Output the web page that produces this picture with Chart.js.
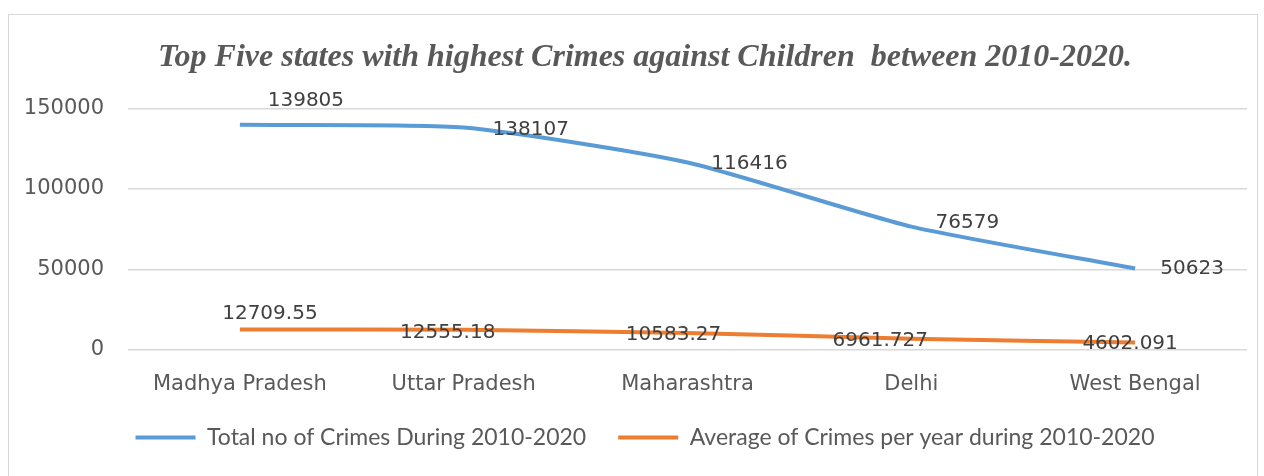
<!DOCTYPE html>
<html>
<head>
<meta charset="utf-8">
<script src="https://cdn.jsdelivr.net/npm/chart.js@4.4.0/dist/chart.umd.min.js"></script>
<style>
  html, body { margin: 0; padding: 0; background: #fff; overflow: hidden; }
  #wrap { position: relative; width: 1264px; height: 476px; overflow: hidden; }
  #frame { position: absolute; left: 8px; top: 14px; width: 1250px; height: 470px; border: 1px solid #d9d9d9; box-sizing: border-box; }
  canvas { position: absolute; left: 0; top: 0; }
</style>
</head>
<body>
<div id="wrap">
  <div id="frame"></div>
  <canvas id="chart" width="1290" height="476"></canvas>
</div>
<script>
const states = ["Madhya Pradesh", "Uttar Pradesh", "Maharashtra", "Delhi", "West Bengal"];
const totalCrimes = [139805, 138107, 116416, 76579, 50623];
const avgCrimes = [12709.55, 12555.18, 10583.27, 6961.727, 4602.091];
const totalLabels = ["139805", "138107", "116416", "76579", "50623"];
const avgLabels = ["12709.55", "12555.18", "10583.27", "6961.727", "4602.091"];

// where each value label sits relative to its point (px)
const labelOffsets = [
    [[66, -24], [67, 2], [62, 1], [56, -4], [57, 0]],
    [[30, -16], [-16, 3], [-14, 2], [-31, 2], [-5, 1]]
];

const valueLabels = {
    id: "valueLabels",
    afterDatasetsDraw(chart) {
        const ctx = chart.ctx;
        const texts = [totalLabels, avgLabels];
        ctx.save();
        ctx.font = "20px 'DejaVu Sans'";
        ctx.fillStyle = "#404040";
        ctx.textAlign = "center";
        ctx.textBaseline = "middle";
        chart.data.datasets.forEach((ds, i) => {
            chart.getDatasetMeta(i).data.forEach((pt, j) => {
                const off = labelOffsets[i][j];
                ctx.fillText(texts[i][j], pt.x + off[0], pt.y + off[1]);
            });
        });
        ctx.restore();
    }
};

new Chart(document.getElementById("chart"), {
    type: "line",
    data: {
        labels: states,
        datasets: [
            {
                label: "Total no of Crimes During 2010-2020",
                data: totalCrimes,
                borderColor: "#5B9BD5",
                backgroundColor: "#5B9BD5",
                borderWidth: 4,
                pointRadius: 0,
                tension: 0.2
            },
            {
                label: "Average of Crimes per year during 2010-2020",
                data: avgCrimes,
                borderColor: "#ED7D31",
                backgroundColor: "#ED7D31",
                borderWidth: 4,
                pointRadius: 0,
                tension: 0.2
            }
        ]
    },
    options: {
        responsive: false,
        animation: false,
        layout: { padding: { left: 4, right: 4, top: 12, bottom: 17 } },
        scales: {
            x: {
                offset: true,
                grid: { display: false, drawTicks: false },
                border: { display: false },
                afterFit(scale) { scale.height = 44; },
                ticks: { color: "#595959", font: { family: "DejaVu Sans", size: 21 }, padding: 22, maxRotation: 0 }
            },
            y: {
                min: 0,
                max: 150000,
                grid: { color: "#d9d9d9", lineWidth: 1.5, drawTicks: false },
                border: { display: false },
                afterFit(scale) { scale.width = 124; },
                ticks: {
                    stepSize: 50000,
                    color: "#595959",
                    font: { family: "DejaVu Sans", size: 21 },
                    padding: 24,
                    callback: v => String(v)
                }
            },
            // empty spacer on the right so title and legend centre like the original
            spacer: {
                type: "linear",
                position: "right",
                grid: { display: false, drawTicks: false },
                border: { display: false },
                ticks: { display: false },
                afterFit(scale) { scale.width = 39; }
            }
        },
        plugins: {
            title: {
                display: true,
                text: "Top Five states with highest Crimes against Children  between 2010-2020.",
                color: "#595959",
                font: { family: "Liberation Serif", size: 32, style: "italic", weight: "bold" },
                padding: { top: 27, bottom: 31 }
            },
            legend: {
                position: "bottom",
                labels: {
                    color: "#595959",
                    font: { family: "Lato", size: 23 },
                    boxWidth: 60,
                    boxHeight: 4,
                    padding: 32,
                    generateLabels(chart) {
                        const items = Chart.defaults.plugins.legend.labels.generateLabels(chart);
                        items.forEach(it => { it.lineWidth = 0; });
                        return items;
                    }
                }
            },
            tooltip: { enabled: false }
        }
    },
    plugins: [valueLabels]
});
</script>
</body>
</html>
